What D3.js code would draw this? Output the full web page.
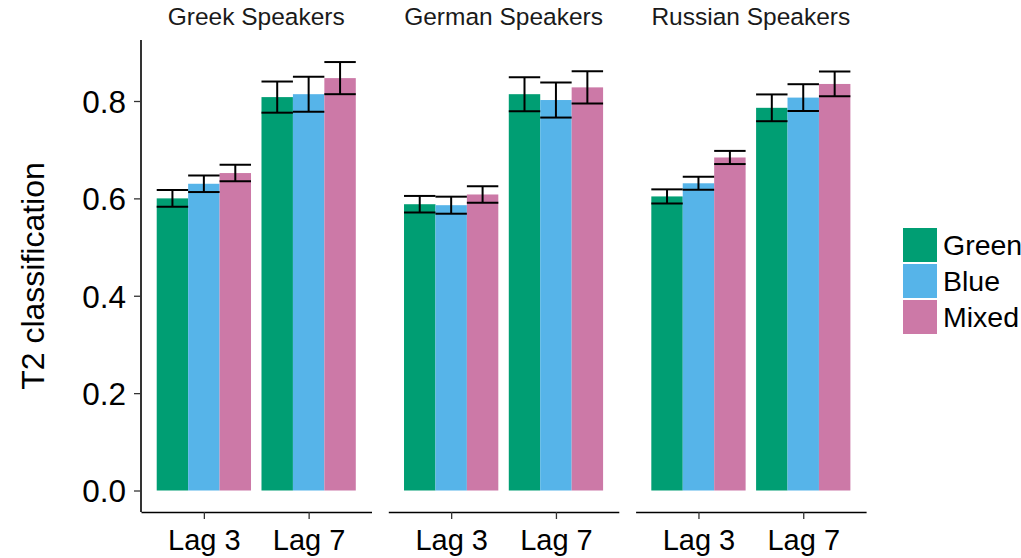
<!DOCTYPE html>
<html lang="en">
<head>
<meta charset="utf-8">
<style type="text/css">
    body { margin: 0; background: #fff; }
    svg { display: block; font-family: "Liberation Sans", Arial, Helvetica, sans-serif; }
    .strip { font-size: 24.5px; fill: #1a1a1a; }
    .tick-label { font-size: 29px; fill: #000; }
    .ytick-label { font-size: 31.5px; fill: #000; }
    .axis-title { font-size: 32px; fill: #000; }
    .legend-label { font-size: 28.5px; fill: #000; }
</style>
</head>
<body>
<svg width="1021" height="558"></svg>

<script src="https://d3js.org/d3.v7.min.js"></script>
<script type="text/javascript">

    // facets, x categories, fill groups
    var speakers = ["Greek Speakers", "German Speakers", "Russian Speakers"];
    var lags = ["Lag 3", "Lag 7"];
    var conditions = ["Green", "Blue", "Mixed"];
    var colorsList = ["#009E73", "#56B4E9", "#CC79A7"];

    // means [lag][condition]
    var greekMean   = [[0.600, 0.630, 0.652], [0.808, 0.814, 0.847]];
    var germanMean  = [[0.588, 0.586, 0.608], [0.814, 0.802, 0.828]];
    var russianMean = [[0.604, 0.631, 0.684], [0.786, 0.807, 0.835]];

    // error bar half widths [lag][condition]
    var greekErr   = [[0.017, 0.017, 0.017], [0.032, 0.036, 0.033]];
    var germanErr  = [[0.017, 0.0175, 0.017], [0.035, 0.036, 0.033]];
    var russianErr = [[0.0145, 0.0135, 0.0135], [0.0275, 0.0275, 0.0255]];

    var yTicks = [0, 0.2, 0.4, 0.6, 0.8];

    var means = [greekMean, germanMean, russianMean];
    var errs = [greekErr, germanErr, russianErr];

    var svg = d3.select("svg");

    var panelTop = 40, panelBottom = 512;
    var panelLeft = 141, panelWidth = 230.5, panelGap = 16.8;

    var y = d3.scaleLinear().domain([0, 0.8]).range([490.5, 101]);

    var color = d3.scaleOrdinal().domain(conditions).range(colorsList);

    // build rows from arrays
    var rows = [];
    speakers.forEach(function (s, si) {
        lags.forEach(function (l, li) {
            conditions.forEach(function (c, ci) {
                rows.push({speaker: s, lag: l, cond: c,
                    mean: means[si][li][ci], err: errs[si][li][ci]});
            });
        });
    });

    speakers.forEach(function (s, si) {
        var x0 = panelLeft + si * (panelWidth + panelGap);
        var g = svg.append("g").attr("transform", "translate(" + x0 + ",0)");

        var x = d3.scalePoint().domain(lags).range([0, panelWidth]).padding(0.6);
        var step = x.step();
        var xc = d3.scaleBand().domain(conditions).range([-0.45 * step, 0.45 * step]);

        var data = rows.filter(function (d) { return d.speaker === s; });

        g.selectAll(".bar")
            .data(data)
            .enter()
            .append("rect")
            .attr("class", "bar")
            .attr("x", function (d) { return x(d.lag) + xc(d.cond); })
            .attr("width", xc.bandwidth())
            .attr("y", function (d) { return y(d.mean); })
            .attr("height", function (d) { return y(0) - y(d.mean); })
            .attr("fill", function (d) { return color(d.cond); });

        var eb = g.selectAll(".errbar")
            .data(data)
            .enter()
            .append("g")
            .attr("class", "errbar")
            .attr("stroke", "#000")
            .attr("stroke-width", 2)
            .attr("fill", "none");

        eb.append("line")
            .attr("x1", function (d) { return x(d.lag) + xc(d.cond) + xc.bandwidth() / 2; })
            .attr("x2", function (d) { return x(d.lag) + xc(d.cond) + xc.bandwidth() / 2; })
            .attr("y1", function (d) { return y(d.mean + d.err); })
            .attr("y2", function (d) { return y(d.mean - d.err); });
        eb.append("line")
            .attr("x1", function (d) { return x(d.lag) + xc(d.cond); })
            .attr("x2", function (d) { return x(d.lag) + xc(d.cond) + xc.bandwidth(); })
            .attr("y1", function (d) { return y(d.mean + d.err); })
            .attr("y2", function (d) { return y(d.mean + d.err); });
        eb.append("line")
            .attr("x1", function (d) { return x(d.lag) + xc(d.cond); })
            .attr("x2", function (d) { return x(d.lag) + xc(d.cond) + xc.bandwidth(); })
            .attr("y1", function (d) { return y(d.mean - d.err); })
            .attr("y2", function (d) { return y(d.mean - d.err); });

        // x axis
        var xAxis = g.append("g").attr("transform", "translate(0," + panelBottom + ")")
            .call(d3.axisBottom(x).tickSize(7).tickSizeOuter(0).tickPadding(10));
        xAxis.select(".domain").attr("stroke", "#000").attr("stroke-width", 1.6);
        xAxis.selectAll(".tick line").attr("stroke", "#333").attr("stroke-width", 1.3);
        xAxis.selectAll(".tick text").attr("class", "tick-label").attr("font-size", null)
            .attr("font-family", null).attr("fill", "#000");

        // strip label
        g.append("text")
            .attr("class", "strip")
            .attr("x", panelWidth / 2)
            .attr("y", 25)
            .attr("text-anchor", "middle")
            .text(s);

        if (si === 0) {
            var yAxis = g.append("g")
                .call(d3.axisLeft(y).tickValues(yTicks).tickFormat(d3.format(".1f"))
                    .tickSize(7).tickSizeOuter(0).tickPadding(8));
            yAxis.select(".domain").attr("d", "M0," + panelTop + "V" + panelBottom)
                .attr("stroke", "#000").attr("stroke-width", 1.6);
            yAxis.selectAll(".tick line").attr("stroke", "#333").attr("stroke-width", 1.3);
            yAxis.selectAll(".tick text").attr("class", "ytick-label").attr("font-size", null)
                .attr("font-family", null).attr("fill", "#000").attr("dy", "0.36em");
        }
    });

    // y title
    svg.append("text")
        .attr("class", "axis-title")
        .attr("transform", "translate(44," + (panelTop + panelBottom) / 2 + ") rotate(-90)")
        .attr("text-anchor", "middle")
        .text("T2 classification");

    // legend
    var legend = svg.append("g").attr("transform", "translate(903,228)");
    var key = legend.selectAll(".key")
        .data(conditions)
        .enter()
        .append("g")
        .attr("class", "key")
        .attr("transform", function (d, i) { return "translate(0," + i * 36 + ")"; });
    key.append("rect")
        .attr("width", 34)
        .attr("height", 34)
        .attr("fill", function (d) { return color(d); });
    key.append("text")
        .attr("class", "legend-label")
        .attr("x", 40)
        .attr("y", 17)
        .attr("dy", "0.36em")
        .text(function (d) { return d; });

</script>
</body>
</html>
